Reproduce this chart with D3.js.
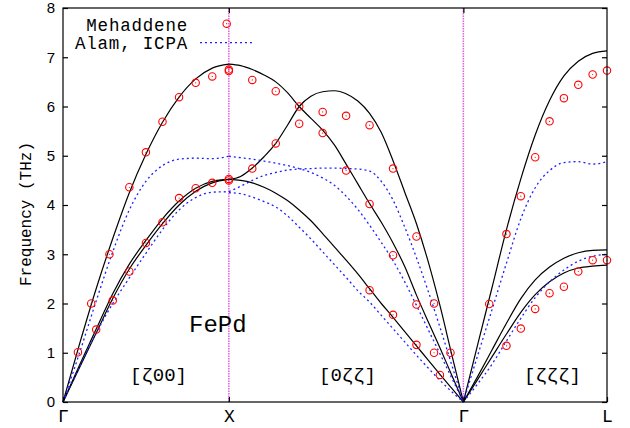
<!DOCTYPE html>
<html lang="en">
<head>
<meta charset="utf-8">
<title>FePd phonon dispersion</title>
<script src="https://d3js.org/d3.v7.min.js"></script>
<style>
  body { margin: 0; background: #fff; }
  svg { display: block; }
</style>
</head>
<body>
<svg id="chart" width="630" height="428"></svg>
<script>
// reduced wave vector grids, one per direction
const zetaGX = [0, 0.1, 0.2, 0.3, 0.4, 0.5, 0.6, 0.7, 0.8, 0.9, 1.0];
const zetaXG = [1.0, 0.95, 0.9, 0.85, 0.8, 0.75, 0.7, 0.65, 0.6, 0.55, 0.5,
                0.45, 0.4, 0.35, 0.3, 0.25, 0.2, 0.15, 0.1, 0.05, 0];
const zetaGL = [0, 0.05, 0.1, 0.15, 0.2, 0.25, 0.3, 0.35, 0.4, 0.45, 0.5];

// solid black curves (THz)
const gxLA  = [0, 1.18, 2.30, 3.32, 4.25, 5.03, 5.68, 6.19, 6.56, 6.78, 6.86];
const gxTA1 = [0, 0.75, 1.48, 2.20, 2.80, 3.28, 3.72, 4.08, 4.34, 4.48, 4.52];
const gxTA2 = [0, 0.70, 1.40, 2.10, 2.70, 3.18, 3.62, 4.00, 4.28, 4.45, 4.52];
const xgB1 = [6.86, 6.83, 6.75, 6.64, 6.50, 6.28, 6.00, 5.76, 5.52, 5.22, 4.83,
              4.43, 4.03, 3.65, 3.23, 2.75, 2.17, 1.63, 1.10, 0.55, 0];
const xgB2 = [4.52, 4.58, 4.75, 4.98, 5.25, 5.62, 6.00, 6.21, 6.30, 6.32, 6.26,
              6.11, 5.86, 5.47, 4.90, 4.26, 3.62, 2.85, 1.96, 0.97, 0];
const xgB3 = [4.52, 4.50, 4.45, 4.36, 4.24, 4.09, 3.90, 3.68, 3.42, 3.15, 2.88,
              2.60, 2.30, 2.00, 1.72, 1.43, 1.14, 0.85, 0.56, 0.28, 0];
const glLA  = [0, 1.17, 2.33, 3.50, 4.53, 5.42, 6.12, 6.62, 6.92, 7.08, 7.13];
const glTA1 = [0, 0.52, 1.06, 1.60, 2.10, 2.48, 2.74, 2.92, 3.03, 3.08, 3.09];
const glTA2 = [0, 0.46, 0.92, 1.38, 1.82, 2.18, 2.44, 2.62, 2.72, 2.76, 2.78];

// Alam, ICPA (dotted blue)
const gxAlamL = [0, 1.00, 2.05, 3.05, 3.90, 4.48, 4.80, 4.93, 4.95, 4.94, 4.99];
const gxAlamT = [0, 0.72, 1.40, 2.00, 2.52, 3.02, 3.50, 3.90, 4.15, 4.26, 4.27];
const xgAlamU = [4.99, 4.96, 4.93, 4.89, 4.85, 4.80, 4.74, 4.66, 4.55, 4.40, 4.18,
                 3.91, 3.59, 3.24, 2.87, 2.44, 1.96, 1.47, 0.98, 0.49, 0];
const xgAlamA = [4.27, 4.38, 4.50, 4.60, 4.66, 4.71, 4.73, 4.74, 4.75, 4.75, 4.74,
                 4.73, 4.69, 4.48, 4.10, 3.55, 2.93, 2.25, 1.52, 0.76, 0];
const xgAlamL = [4.25, 4.23, 4.16, 4.07, 3.96, 3.78, 3.55, 3.31, 3.05, 2.79, 2.53,
                 2.26, 2.03, 1.76, 1.49, 1.22, 0.95, 0.69, 0.44, 0.21, 0];
const glAlamL = [0, 0.95, 1.88, 2.82, 3.72, 4.35, 4.70, 4.86, 4.88, 4.83, 4.88];
const glAlamT = [0, 0.37, 0.77, 1.24, 1.70, 2.12, 2.44, 2.68, 2.86, 2.96, 3.00];

// Mehaddene measurements [zeta, THz]
const mehGX = [[0.09,1.01],[0.17,2.0],[0.2,1.47],[0.28,3.0],[0.3,2.06],[0.4,4.36],[0.4,2.65],
  [0.5,5.07],[0.5,3.23],[0.6,5.69],[0.6,3.65],[0.7,6.19],[0.7,4.14],[0.8,6.48],[0.8,4.34],
  [0.9,6.61],[0.9,4.45],[1.0,6.72],[1.0,6.75],[1.0,4.50],[1.0,4.53]];
const mehXG = [[0.9,6.54],[0.9,4.74],[0.8,6.31],[0.8,5.25],[0.7,6.0],[0.7,5.65],[0.6,5.89],
  [0.6,5.46],[0.5,5.81],[0.5,4.70],[0.4,5.62],[0.4,4.02],[0.4,2.27],[0.3,4.74],[0.3,2.98],
  [0.3,1.77],[0.2,3.36],[0.2,1.98],[0.2,1.16],[0.125,2.0],[0.125,1.0],[0.1,0.55],[0.055,1.0]];
const mehGL = [[0.09,1.99],[0.15,3.41],[0.15,1.14],[0.2,4.18],[0.2,1.49],[0.25,4.97],[0.25,1.89],
  [0.3,5.70],[0.3,2.21],[0.35,6.17],[0.35,2.34],[0.4,6.44],[0.4,2.65],[0.45,6.65],[0.45,2.88],
  [0.5,6.73],[0.5,2.88]];

const yTicks = [0, 1, 2, 3, 4, 5, 6, 7, 8];
const pointLabels = ["\u0393", "X", "\u0393", "L"];
const dirLabels = ["[\u03b600]", "[0\u03b6\u03b6]", "[\u03b6\u03b6\u03b6]"];

const mLeft = 63, mRight = 607, mTop = 8, mBottom = 402;
const mono = "'Liberation Mono', 'DejaVu Sans Mono', monospace";

// position along Γ-X-Γ-L path, in units of Γ-X
const pathLen = 1 + Math.SQRT2 + Math.sqrt(3) / 2;
function pathPos(seg, z) {
  if (seg === 0) return z;
  if (seg === 1) return 1 + Math.SQRT2 * (1 - z);
  return 1 + Math.SQRT2 + Math.sqrt(3) * z;
}
const symPos = [0, 1, 1 + Math.SQRT2, pathLen];

const x = d3.scaleLinear().domain([0, pathLen]).range([mLeft, mRight]);
const y = d3.scaleLinear().domain([0, 8]).range([mBottom, mTop]);

const svg = d3.select("#chart");

// vertical lines at X and Γ
svg.selectAll("line.sym")
  .data([symPos[1], symPos[2]])
  .enter().append("line")
  .attr("class", "sym")
  .attr("x1", d => x(d)).attr("x2", d => x(d))
  .attr("y1", mTop).attr("y2", mBottom)
  .attr("stroke", "#e060e0")
  .attr("stroke-width", 1.5)
  .attr("stroke-dasharray", "1.5,1");

const curves = [
  {seg: 0, z: zetaGX, f: gxLA, k: "born"}, {seg: 0, z: zetaGX, f: gxTA1, k: "born"},
  {seg: 0, z: zetaGX, f: gxTA2, k: "born"},
  {seg: 1, z: zetaXG, f: xgB1, k: "born"}, {seg: 1, z: zetaXG, f: xgB2, k: "born"},
  {seg: 1, z: zetaXG, f: xgB3, k: "born"},
  {seg: 2, z: zetaGL, f: glLA, k: "born"}, {seg: 2, z: zetaGL, f: glTA1, k: "born"},
  {seg: 2, z: zetaGL, f: glTA2, k: "born"},
  {seg: 0, z: zetaGX, f: gxAlamL, k: "alam"}, {seg: 0, z: zetaGX, f: gxAlamT, k: "alam"},
  {seg: 1, z: zetaXG, f: xgAlamU, k: "alam"}, {seg: 1, z: zetaXG, f: xgAlamA, k: "alam"},
  {seg: 1, z: zetaXG, f: xgAlamL, k: "alam"},
  {seg: 2, z: zetaGL, f: glAlamL, k: "alam"}, {seg: 2, z: zetaGL, f: glAlamT, k: "alam"}
];

const line = d3.line()
  .x(d => x(d[0]))
  .y(d => y(d[1]))
  .curve(d3.curveMonotoneX);

svg.selectAll("path.branch")
  .data(curves)
  .enter().append("path")
  .attr("class", "branch")
  .attr("d", c => {
    const pts = c.z.map((z, i) => [pathPos(c.seg, z), c.f[i]]);
    pts.sort((a, b) => a[0] - b[0]);
    return line(pts);
  })
  .attr("fill", "none")
  .attr("stroke", c => c.k === "born" ? "#000" : "#2020ff")
  .attr("stroke-width", c => c.k === "born" ? 1.2 : 1.3)
  .attr("stroke-dasharray", c => c.k === "born" ? null : "2,3");

// measured points
const meh = [].concat(
  mehGX.map(d => [pathPos(0, d[0]), d[1]]),
  mehXG.map(d => [pathPos(1, d[0]), d[1]]),
  mehGL.map(d => [pathPos(2, d[0]), d[1]])
);

function drawPoint(g, cx, cy) {
  g.append("circle").attr("cx", cx).attr("cy", cy).attr("r", 3.7)
    .attr("fill", "none").attr("stroke", "#ff0000").attr("stroke-width", 1.1);
  g.append("circle").attr("cx", cx).attr("cy", cy).attr("r", 0.6).attr("fill", "#ff0000");
}
const pg = svg.append("g");
meh.forEach(d => drawPoint(pg, x(d[0]), y(d[1])));

// frame
svg.append("rect")
  .attr("x", mLeft).attr("y", mTop)
  .attr("width", mRight - mLeft).attr("height", mBottom - mTop)
  .attr("fill", "none").attr("stroke", "#000").attr("stroke-width", 1.2);

// axes, ticks pointing inward
const yAxis = svg.append("g")
  .attr("transform", `translate(${mLeft},0)`)
  .call(d3.axisLeft(y).tickValues(yTicks).tickSize(-5).tickPadding(8).tickFormat(d3.format("d")));
yAxis.select(".domain").remove();
yAxis.selectAll("text")
  .attr("font-family", "'Liberation Sans', Arial, sans-serif")
  .attr("font-size", 15).attr("fill", "#000");

const rAxis = svg.append("g")
  .attr("transform", `translate(${mRight},0)`)
  .call(d3.axisRight(y).tickValues(yTicks).tickSize(-5).tickFormat(""));
rAxis.select(".domain").remove();

const xAxis = svg.append("g")
  .attr("transform", `translate(0,${mBottom})`)
  .call(d3.axisBottom(x).tickValues(symPos).tickSize(-5).tickPadding(7)
    .tickFormat((d, i) => pointLabels[i]));
xAxis.select(".domain").remove();
xAxis.selectAll("text")
  .attr("font-family", mono).attr("font-size", 18).attr("fill", "#000");

const tAxis = svg.append("g")
  .attr("transform", `translate(0,${mTop})`)
  .call(d3.axisTop(x).tickValues([symPos[1], symPos[2]]).tickSize(-5).tickFormat(""));
tAxis.select(".domain").remove();

svg.selectAll(".tick line").attr("stroke", "#000").attr("stroke-width", 1.2);

// y label
svg.append("text")
  .attr("transform", "translate(31,214) rotate(-90)")
  .attr("text-anchor", "middle")
  .attr("font-family", mono).attr("font-size", 16)
  .text("Frequency (THz)");

// key
svg.append("text")
  .attr("x", 188).attr("y", 30.5)
  .attr("text-anchor", "end")
  .attr("font-family", mono).attr("font-size", 17.5)
  .attr("letter-spacing", 0.8)
  .text("Mehaddene");
drawPoint(svg.append("g"), 226.7, 23.7);
svg.append("text")
  .attr("x", 188).attr("y", 49)
  .attr("text-anchor", "end")
  .attr("font-family", mono).attr("font-size", 17.5)
  .attr("letter-spacing", 0.8)
  .text("Alam, ICPA");
svg.append("line")
  .attr("x1", 200).attr("x2", 253).attr("y1", 42.7).attr("y2", 42.7)
  .attr("stroke", "#2020ff").attr("stroke-width", 1.3).attr("stroke-dasharray", "2,3");

// annotations
svg.append("text")
  .attr("x", 189).attr("y", 332)
  .attr("font-family", mono).attr("font-size", 24)
  .text("FePd");

svg.selectAll("text.dir")
  .data(dirLabels)
  .enter().append("text")
  .attr("class", "dir")
  .attr("x", (d, i) => [158.5, 347.5, 552.5][i])
  .attr("y", 381)
  .attr("text-anchor", "middle")
  .attr("font-family", mono).attr("font-size", 19)
  .text(d => d);
</script>
</body>
</html>
